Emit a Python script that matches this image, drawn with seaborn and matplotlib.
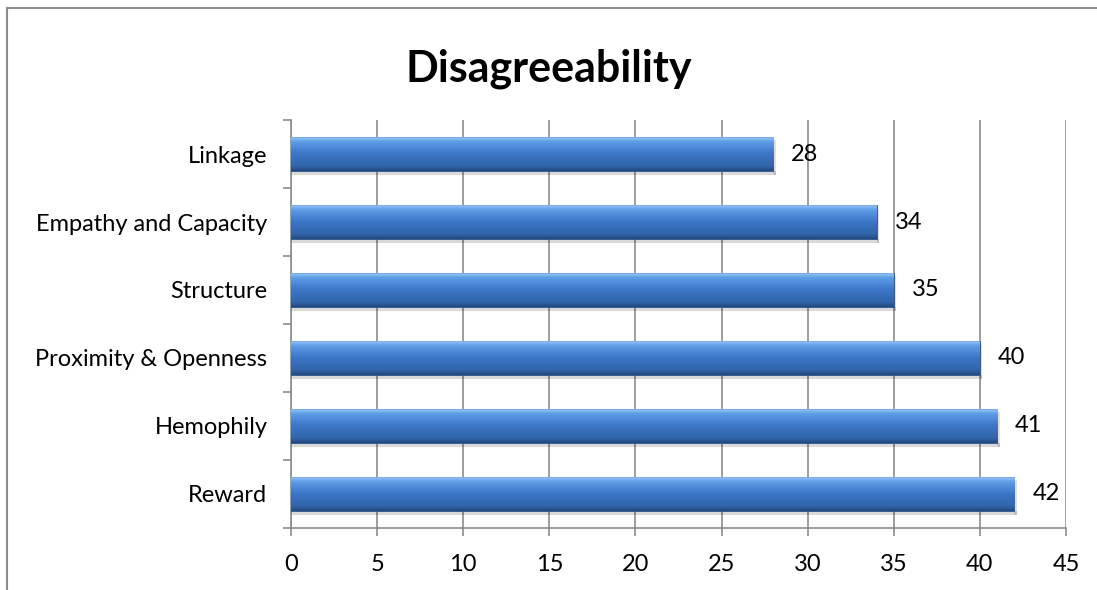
import numpy as np
import pandas as pd
import matplotlib
matplotlib.use("Agg")
import matplotlib.pyplot as plt
from matplotlib.lines import Line2D
from matplotlib.colors import LinearSegmentedColormap
import seaborn as sns

categories = ["Linkage", "Empathy and Capacity", "Structure",
              "Proximity & Openness", "Hemophily", "Reward"]
values = [28, 34, 35, 40, 41, 42]
xticks = [0, 5, 10, 15, 20, 25, 30, 35, 40, 45]
title = "Disagreeability"

sns.set_style("white")
plt.rcParams['font.family'] = ['Lato', 'DejaVu Sans']
plt.rcParams['text.color'] = 'black'
plt.rcParams['xtick.labelcolor'] = 'black'
plt.rcParams['ytick.labelcolor'] = 'black'

df = pd.DataFrame({"cat": categories, "val": values})

fig = plt.figure(figsize=(10.97, 5.90), dpi=100)
ax = fig.add_axes([0.2653, 0.1051, 0.7064, 0.6915])

sns.barplot(data=df, y="cat", x="val", orient="h", color="#3A78C8",
            width=0.51, ax=ax, zorder=3)

ax.set_xlim(0, 45)
ax.set_xticks(xticks)
ax.set_xlabel("")
ax.set_ylabel("")
ax.grid(axis="x", color="#8c8c8c", linewidth=1.2, zorder=0)
ax.set_axisbelow(True)
for s in ["top", "right"]:
    ax.spines[s].set_visible(False)
for s in ["left", "bottom"]:
    ax.spines[s].set_color("#8c8c8c")
    ax.spines[s].set_linewidth(1.2)

n = len(categories)
ax.set_yticks(np.arange(n + 1) - 0.5, minor=True)
ax.tick_params(axis="y", which="minor", length=6, color="#8c8c8c", width=1.2, left=True)
ax.tick_params(axis="y", which="major", length=0, labelsize=17, pad=17,
               labelcolor="black")
ax.tick_params(axis="x", which="major", length=6, color="#8c8c8c", width=1.2,
               bottom=True, labelsize=17, pad=13, labelcolor="black")

# gradient fill for bars (0 = top, 1 = bottom)
cmap = LinearSegmentedColormap.from_list(
    "bar", [(0.0, "#4A84D0"), (0.06, "#8CC0F5"), (0.16, "#5E9CE6"),
            (0.5, "#3C76C8"), (0.85, "#3265AC"), (0.94, "#2A5692"),
            (1.0, "#22467A")])
grad = np.linspace(0, 1, 256).reshape(-1, 1)
for p in ax.patches:
    x0, y0 = p.get_x(), p.get_y()
    w, h = p.get_width(), p.get_height()
    ax.add_patch(plt.Rectangle((x0, y0 + h), w + 0.15, h * 0.1,
                               facecolor="#000000", alpha=0.15, zorder=2, lw=0))
    ax.add_patch(plt.Rectangle((x0 + w, y0 + h * 0.1), 0.15, h,
                               facecolor="#000000", alpha=0.12, zorder=2, lw=0))
    im = ax.imshow(grad, extent=[x0, x0 + w, y0 + h, y0], origin="upper",
                   aspect="auto", cmap=cmap, zorder=4)
    im.set_clip_path(p)
    p.set_edgecolor("#2A5590")
    p.set_linewidth(0.6)
ax.set_ylim(n - 0.5, -0.5)
ax.set_xlim(0, 45)

ax.bar_label(ax.containers[0], labels=[str(v) for v in values],
             padding=13, fontsize=17, color="black")

fig.text(0.5, 0.883, title, ha="center", va="center", fontsize=31,
         fontweight="bold", color="black")

fig.add_artist(Line2D([7 / 1097, 7 / 1097], [0, 1 - 8 / 590],
                      color="#8c8c8c", lw=1.5, transform=fig.transFigure))
fig.add_artist(Line2D([7 / 1097, 1], [1 - 8 / 590, 1 - 8 / 590],
                      color="#8c8c8c", lw=1.5, transform=fig.transFigure))

fig.savefig("out.png", dpi=100)
